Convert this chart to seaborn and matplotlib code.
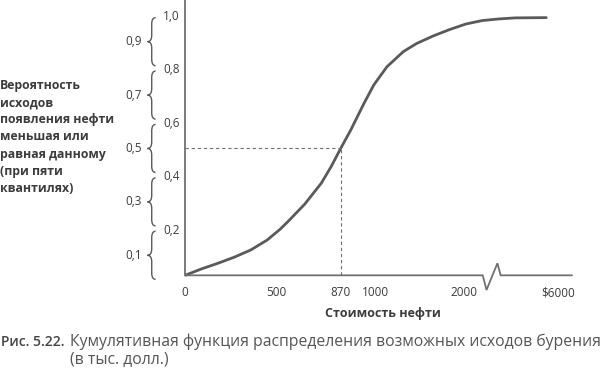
import numpy as np
import matplotlib
matplotlib.use("Agg")
import matplotlib.pyplot as plt
from matplotlib.path import Path
from matplotlib.patches import PathPatch
from matplotlib.transforms import blended_transform_factory
import seaborn as sns

# cost axis ticks (thousand $)
cost_ticks = [0, 500, 870, 1000, 2000, 6000]
cost_labels = ["0", "500", "870", "1000", "2000", "$6000"]

# cumulative distribution
curve_cost = [0, 90, 179, 269, 359, 448, 521, 568, 663, 758, 815, 870,
              908, 958, 995, 1133, 1319, 1467, 1652, 1837, 2083, 2779,
              3471, 4167, 5488]
curve_prob = [0.025, 0.049, 0.070, 0.093, 0.120, 0.157, 0.198, 0.228, 0.292,
              0.370, 0.432, 0.5, 0.569, 0.669, 0.738, 0.806, 0.863, 0.893,
              0.921, 0.945, 0.966, 0.979, 0.985, 0.989, 0.990]

# five quantile brackets
quantile_mid = [0.1, 0.3, 0.5, 0.7, 0.9]
quantile_edges = [0.2, 0.4, 0.6, 0.8, 1.0]

median_cost = 870
median_prob = 0.5

LINE = "#5a5a5a"
AXIS = "#707070"
TEXT = "#3c3c3c"

sns.set_theme(style="white")
plt.rcParams["font.family"] = ["Open Sans", "DejaVu Sans"]

# schematic (broken) cost axis: piecewise-linear scale
knot_cost = [-1000, 0, 500, 870, 1000, 2000, 6000, 8000]
knot_pos = [-186, 0, 93, 158, 193, 283, 379, 462]


def fwd(x):
    return np.interp(x, knot_cost, knot_pos)


def inv(p):
    return np.interp(p, knot_pos, knot_cost)


fig = plt.figure(figsize=(6, 3.76), dpi=100)
ax = fig.add_axes([185 / 600, 94 / 376, 387 / 600, 282 / 376])
ax.set_xscale("function", functions=(fwd, inv))
x_max = 6333
y0 = 0.025
ax.set_xlim(0, x_max)
ax.set_ylim(0, 1.056)

sns.lineplot(x=curve_cost, y=curve_prob, ax=ax, color=LINE, lw=2.0, sort=False)

# median guide
ax.plot([0, median_cost], [median_prob, median_prob], color=AXIS, lw=0.8,
        ls=(0, (3, 2.5)))
ax.plot([median_cost, median_cost], [y0, median_prob], color=AXIS, lw=0.8,
        ls=(0, (3, 2.5)))

# x axis line with break mark
brk = [2800, 2960, 3420, 3560]
ax.plot([0, brk[0], brk[1], brk[2], brk[3], x_max],
        [y0, y0, -0.03, 0.07, y0, y0], color=AXIS, lw=1.3, clip_on=False,
        solid_joinstyle="miter")

for s in ["top", "right", "bottom"]:
    ax.spines[s].set_visible(False)
ax.spines["bottom"].set_position(("data", y0))
ax.spines["left"].set_color(AXIS)
ax.spines["left"].set_linewidth(1.3)
ax.spines["left"].set_bounds(y0, 1.056)

ax.set_xticks(cost_ticks)
ax.set_xticklabels(cost_labels)
ax.set_yticks(quantile_edges)
ax.set_yticklabels([f"{v:.1f}".replace(".", ",") for v in quantile_edges])
ax.tick_params(axis="both", length=0, labelsize=8.5, labelcolor=TEXT)
ax.tick_params(axis="x", pad=8)
ax.tick_params(axis="y", pad=3.6)
ax.minorticks_off()

# braces for quantiles
tr = blended_transform_factory(ax.transAxes, ax.transData)
xt, xm, xp = -0.076, -0.086, -0.097
r = 0.024
for mid in quantile_mid:
    lo, hi = mid - 0.09, mid + 0.09
    verts = [(xt, hi), (xm, hi), (xm, hi - r),
             (xm, mid + r), (xm, mid), (xp, mid),
             (xm, mid), (xm, mid - r),
             (xm, lo + r), (xm, lo), (xt, lo)]
    codes = [Path.MOVETO, Path.CURVE3, Path.CURVE3,
             Path.LINETO, Path.CURVE3, Path.CURVE3,
             Path.CURVE3, Path.CURVE3,
             Path.LINETO, Path.CURVE3, Path.CURVE3]
    ax.add_patch(PathPatch(Path(verts, codes), transform=tr, fill=False,
                           ec=LINE, lw=1.0, clip_on=False))
    ax.text(-0.111, mid, f"{mid:.1f}".replace(".", ","), transform=tr,
            ha="right", va="center", fontsize=8.5, color=TEXT)

ax.set_xlabel("")
ax.set_ylabel("")
fig.text(383 / 600, 1 - 313 / 376, "Стоимость нефти", ha="center", va="center",
         fontsize=9, fontweight="bold", color=TEXT)

fig.text(0.0, 1 - 137 / 376,
         "Вероятность\nисходов\nпоявления нефти\nменьшая или\nравная данному\n(при пяти\nквантилях)",
         ha="left", va="center", fontsize=8.8, fontweight="bold", color=TEXT,
         linespacing=1.42)

# caption
fig.text(1 / 600, 1 - 342 / 376, "Рис. 5.22.", ha="left", va="center",
         fontsize=10, fontweight="semibold", color="#444444")
fig.text(70 / 600, 1 - 342 / 376,
         "Кумулятивная функция распределения возможных исходов бурения",
         ha="left", va="center", fontsize=11.3, color="#555555")
fig.text(70 / 600, 1 - 359 / 376, "(в тыс. долл.)", ha="left", va="center",
         fontsize=11.3, color="#555555")

fig.savefig("out.png", dpi=100)
